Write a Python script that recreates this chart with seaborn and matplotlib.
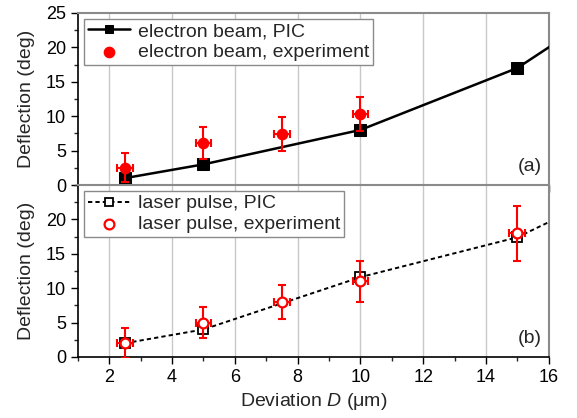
import numpy as np
import pandas as pd
import matplotlib
matplotlib.use("Agg")
import matplotlib.pyplot as plt
from matplotlib.ticker import MultipleLocator
import seaborn as sns

# ---- data ----
eb_pic_x = [2.5, 5, 10, 15, 17.5]
eb_pic_y = [1.0, 3.0, 8.0, 17.0, 24.5]
eb_exp_x = [2.5, 5, 7.5, 10]
eb_exp_y = [2.5, 6.1, 7.4, 10.3]
eb_exp_yerr = [2.1, 2.3, 2.5, 2.5]
eb_exp_xerr = [0.25, 0.25, 0.25, 0.25]

lp_pic_x = [2.5, 5, 10, 15, 17.5]
lp_pic_y = [2.0, 4.0, 11.6, 17.4, 22.9]
lp_exp_x = [2.5, 5, 7.5, 10, 15]
lp_exp_y = [2.0, 5.0, 8.0, 11.0, 18.0]
lp_exp_yerr = [2.2, 2.3, 2.5, 3.0, 4.0]
lp_exp_xerr = [0.25, 0.25, 0.25, 0.25, 0.25]

xticks = [2, 4, 6, 8, 10, 12, 14, 16]
yticks_a = [0, 5, 10, 15, 20, 25]
yticks_b = [0, 5, 10, 15, 20]

sns.set_style("white")
plt.rcParams['font.family'] = ['Liberation Sans', 'DejaVu Sans']
plt.rcParams['mathtext.fontset'] = 'custom'
plt.rcParams['mathtext.rm'] = 'Liberation Sans'
plt.rcParams['mathtext.it'] = 'Liberation Sans:italic'

fig = plt.figure(figsize=(5.77, 4.18), dpi=100)
ax_a = fig.add_axes([0.135, 0.5574, 0.816, 0.4116])
ax_b = fig.add_axes([0.135, 0.146, 0.816, 0.4114], sharex=ax_a)

df_eb_pic = pd.DataFrame({'x': eb_pic_x, 'y': eb_pic_y})
df_eb_exp = pd.DataFrame({'x': eb_exp_x, 'y': eb_exp_y})
df_lp_pic = pd.DataFrame({'x': lp_pic_x, 'y': lp_pic_y})
df_lp_exp = pd.DataFrame({'x': lp_exp_x, 'y': lp_exp_y})

# panel (a)
sns.lineplot(data=df_eb_pic, x='x', y='y', ax=ax_a, color='black', lw=1.8,
             marker='s', markersize=8, markeredgecolor='black', markerfacecolor='black',
             label='electron beam, PIC', zorder=3, sort=False)
ax_a.errorbar(eb_exp_x, eb_exp_y, yerr=eb_exp_yerr, xerr=eb_exp_xerr, fmt='none',
              ecolor='red', elinewidth=1.5, capsize=2.8, capthick=1.5, zorder=4)
sns.scatterplot(data=df_eb_exp, x='x', y='y', ax=ax_a, color='red', s=55,
                edgecolor='red', linewidth=1, label='electron beam, experiment', zorder=5)

# panel (b)
sns.lineplot(data=df_lp_pic, x='x', y='y', ax=ax_b, color='black', lw=1.4,
             linestyle=(0, (2.2, 1.6)),
             marker='s', markersize=7.5, markeredgecolor='black', markerfacecolor='white',
             markeredgewidth=1.3, label='laser pulse, PIC', zorder=3, sort=False)
ax_b.errorbar(lp_exp_x, lp_exp_y, yerr=lp_exp_yerr, xerr=lp_exp_xerr, fmt='none',
              ecolor='red', elinewidth=1.5, capsize=2.8, capthick=1.5, zorder=4)
sns.scatterplot(data=df_lp_exp, x='x', y='y', ax=ax_b, color='white', s=50,
                edgecolor='red', linewidth=1.6, label='laser pulse, experiment', zorder=5)

for ax, yt in ((ax_a, yticks_a), (ax_b, yticks_b)):
    ax.set_xlim(1, 16)
    ax.set_ylim(0, 25)
    ax.set_xticks(xticks)
    ax.set_yticks(yt)
    ax.xaxis.set_minor_locator(MultipleLocator(1))
    ax.yaxis.set_minor_locator(MultipleLocator(2.5))
    ax.tick_params(which='major', direction='out', length=5, width=1, colors='black',
                   labelsize=13, bottom=True, left=True, top=False, right=False)
    ax.tick_params(which='minor', direction='out', length=3, width=1,
                   bottom=True, left=True, top=False, right=False)
    ax.grid(True, axis='x', which='major', color='#c8c8c8', lw=1)
    ax.grid(False, axis='y')
    for s in ('left', 'bottom'):
        ax.spines[s].set_color('black')
        ax.spines[s].set_linewidth(1.2)
    for s in ('top', 'right'):
        ax.spines[s].set_color('#8a8a8a')
        ax.spines[s].set_linewidth(1.5)
    ax.set_ylabel('Deflection (deg)', fontsize=14, labelpad=8)
    leg = ax.legend(loc='upper left', fontsize=14, frameon=True, fancybox=False,
                    edgecolor='#8a8a8a', borderaxespad=0.3, handlelength=2.2,
                    handletextpad=0.4, borderpad=0.2, labelspacing=0.15, framealpha=1)
    leg.get_frame().set_linewidth(1.0)
    leg.legend_handles[0].set_markersize(5.5)

ax_a.tick_params(axis='x', labelbottom=False)
ax_a.set_xlabel('')
ax_b.set_xlabel('Deviation $\\it{D}$ (μm)', fontsize=14, labelpad=4)

ax_a.text(0.985, 0.06, '(a)', transform=ax_a.transAxes, ha='right', va='bottom', fontsize=14)
ax_b.text(0.985, 0.06, '(b)', transform=ax_b.transAxes, ha='right', va='bottom', fontsize=14)

fig.savefig('out.png', dpi=100)
